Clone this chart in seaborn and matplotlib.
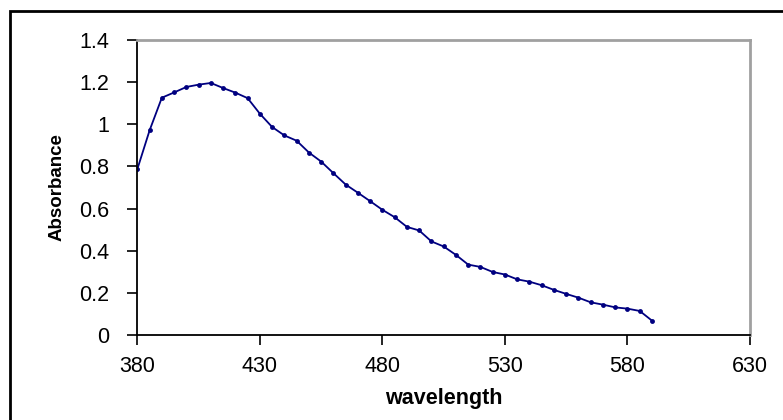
import numpy as np
import pandas as pd
import seaborn as sb
import matplotlib
matplotlib.use('Agg')
import matplotlib.pyplot as plt
from matplotlib.patches import Rectangle

# absorbance spectrum, every 5 nm
wavelength = [380, 385, 390, 395, 400, 405, 410, 415, 420, 425,
              430, 435, 440, 445, 450, 455, 460, 465, 470, 475,
              480, 485, 490, 495, 500, 505, 510, 515, 520, 525,
              530, 535, 540, 545, 550, 555, 560, 565, 570, 575,
              580, 585, 590]
absorbance = [0.787, 0.971, 1.126, 1.151, 1.177, 1.188, 1.196, 1.172, 1.150, 1.124,
              1.050, 0.987, 0.947, 0.922, 0.866, 0.823, 0.768, 0.714, 0.675, 0.635,
              0.594, 0.559, 0.513, 0.496, 0.444, 0.420, 0.380, 0.334, 0.323, 0.299,
              0.287, 0.264, 0.253, 0.236, 0.214, 0.195, 0.177, 0.155, 0.144, 0.131,
              0.125, 0.114, 0.068]
xticks = [380, 430, 480, 530, 580, 630]
yticks = [0, 0.2, 0.4, 0.6, 0.8, 1, 1.2, 1.4]
ytick_labels = ['0', '0.2', '0.4', '0.6', '0.8', '1', '1.2', '1.4']

df = pd.DataFrame({'wavelength': wavelength, 'Absorbance': absorbance})

sb.set_style('ticks')
plt.rcParams['font.family'] = ['Liberation Sans', 'DejaVu Sans']
plt.rcParams['text.color'] = 'black'
plt.rcParams['axes.labelcolor'] = 'black'

fig = plt.figure(figsize=(7.83, 4.20), dpi=100)
ax = fig.add_axes([0.1754, 0.2024, 0.9579 - 0.1754, 0.9048 - 0.2024])

sb.lineplot(data=df, x='wavelength', y='Absorbance', ax=ax, color='#000080',
            linewidth=1.3, marker='o', markersize=3.5, markeredgewidth=0)

ax.set_xlim(380, 630)
ax.set_ylim(0, 1.4)
ax.set_xticks(xticks)
ax.set_xticklabels([str(t) for t in xticks])
ax.set_yticks(yticks)
ax.set_yticklabels(ytick_labels)
ax.tick_params(axis='both', labelsize=15.5, colors='black', length=7, width=1.2,
               direction='out')
ax.tick_params(axis='y', pad=13)
ax.tick_params(axis='x', pad=8)

ax.set_xlabel('wavelength', fontsize=15.5, fontweight='bold', labelpad=8, color='black')
ax.set_ylabel('Absorbance', fontsize=13.5, fontweight='bold', labelpad=10, color='black')

for s in ['left', 'bottom']:
    ax.spines[s].set_color('black')
    ax.spines[s].set_linewidth(1.3)
for s in ['top', 'right']:
    ax.spines[s].set_visible(True)
    ax.spines[s].set_color('#a0a0a0')
    ax.spines[s].set_linewidth(2)

# outer chart border (cut off on the right and bottom like the original)
fig.patches.append(Rectangle((10 / 783, -0.1), 1.2, 1 - 11 / 420 + 0.1,
                             transform=fig.transFigure, fill=False,
                             edgecolor='black', linewidth=2))

fig.savefig('out.png', dpi=100)
